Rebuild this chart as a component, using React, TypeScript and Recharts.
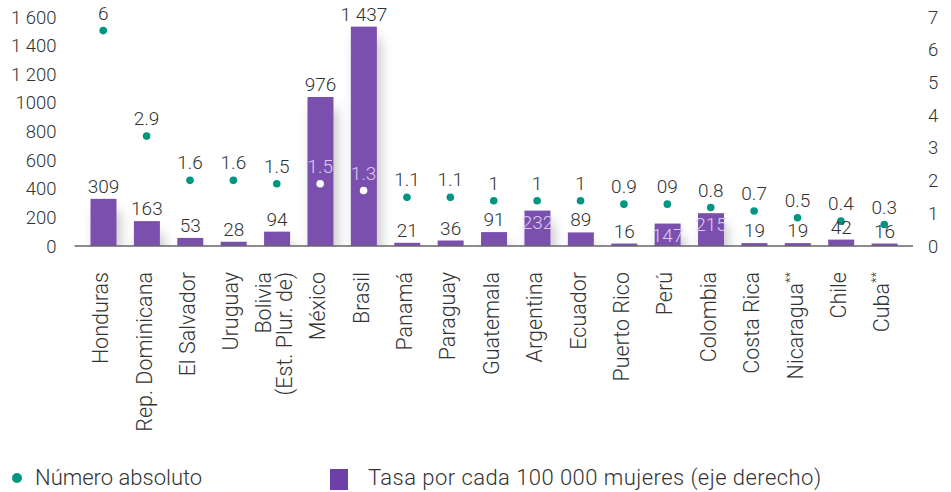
import React from "react";
import { ComposedChart, Bar, Line, XAxis, YAxis, LabelList } from "recharts";

// countries, "\n" splits a label over two lines, trailing "**" is a footnote mark
const countries = [
  "Honduras",
  "Rep. Dominicana",
  "El Salvador",
  "Uruguay",
  "Bolivia\n(Est. Plur. de)",
  "México",
  "Brasil",
  "Panamá",
  "Paraguay",
  "Guatemala",
  "Argentina",
  "Ecuador",
  "Puerto Rico",
  "Perú",
  "Colombia",
  "Costa Rica",
  "Nicaragua**",
  "Chile",
  "Cuba**",
];

// bars (left axis)
const absolute = [309, 163, 53, 28, 94, 976, 1437, 21, 36, 91, 232, 89, 16, 147, 215, 19, 19, 42, 16];

// dots (right axis)
const rates = [6, 2.9, 1.6, 1.6, 1.5, 1.5, 1.3, 1.1, 1.1, 1, 1, 1, 0.9, 0.9, 0.8, 0.7, 0.5, 0.4, 0.3];
const rateLabels = ["6", "2.9", "1.6", "1.6", "1.5", "1.5", "1.3", "1.1", "1.1", "1", "1", "1", "0.9", "09", "0.8", "0.7", "0.5", "0.4", "0.3"];

const leftTicks = [0, 200, 400, 600, 800, 1000, 1200, 1400, 1600];
const leftTickLabels = ["0", "200", "400", "600", "800", "1000", "1 200", "1 400", "1 600"];
const rightTicks = [0, 1, 2, 3, 4, 5, 6, 7];

// labels drawn inside the bar in a light colour
const barLabelsInside = ["Argentina", "Perú", "Colombia"];
const dotsInsideBar = ["México", "Brasil"];

const data = countries.map((name, i) => ({
  name,
  absolute: absolute[i],
  rate: rates[i],
  rateLabel: rateLabels[i],
}));

const FONT = "Roboto, 'Liberation Sans', Arial, sans-serif";
const TEXT = "#333333";
const PURPLE = "#7A50AE";
const TEAL = "#009682";
const LIGHT = "#dccdf0";

const fmt = (v: number) => (v >= 1000 ? `${Math.floor(v / 1000)} ${String(v % 1000).padStart(3, "0")}` : String(v));

const CountryTick = (props: any) => {
  const { x, y, payload } = props;
  const lines = String(payload.value).split("\n");
  const n = lines.length;
  return (
    <g transform={`translate(${x},${y})`}>
      <text transform="rotate(-90)" textAnchor="end" fontSize={21.5} fill={TEXT} fontFamily={FONT} fontWeight={300}>
        {lines.map((line, i) => {
          const note = line.endsWith("**");
          const txt = note ? line.slice(0, -2) : line;
          return (
            <tspan key={i} x={-26} y={5 + (i - (n - 1) / 2) * 21}>
              {txt}
              {note && (
                <tspan fontSize={13} dy={-9}>
                  **
                </tspan>
              )}
            </tspan>
          );
        })}
      </text>
    </g>
  );
};

const BarShape = (props: any) => {
  const { x, y, width, height } = props;
  return <rect x={x} y={y} width={width} height={height} fill={PURPLE} filter="url(#barShadow)" />;
};

const BarValue = (props: any) => {
  const { x, y, width, value, index } = props;
  const inside = barLabelsInside.includes(countries[index]);
  return (
    <text
      x={x + width / 2}
      y={inside ? y + 18 : y - 6}
      textAnchor="middle"
      fontSize={19}
      fontFamily={FONT}
      fontWeight={300}
      fill={inside ? LIGHT : TEXT}
    >
      {fmt(value)}
    </text>
  );
};

const RateDot = (props: any) => {
  const { cx, cy, index } = props;
  const inside = dotsInsideBar.includes(countries[index]);
  return <circle key={index} cx={cx} cy={cy} r={3.8} fill={inside ? "#ffffff" : TEAL} />;
};

const RateValue = (props: any) => {
  const { x, y, index } = props;
  const inside = dotsInsideBar.includes(countries[index]);
  return (
    <text x={x} y={y - 11} textAnchor="middle" fontSize={19} fontFamily={FONT} fontWeight={300} fill={inside ? LIGHT : TEXT}>
      {rateLabels[index]}
    </text>
  );
};

export default function App() {
  return (
    <div style={{ position: "absolute", left: 0, top: 0, width: 951, height: 492, background: "#fff", fontFamily: FONT }}>
      <ComposedChart width={951} height={492} data={data} margin={{ top: 17, right: 0, bottom: 46, left: 0 }}>
        <defs>
          <filter id="barShadow" x="-60%" y="-20%" width="220%" height="170%">
            <feDropShadow dx={4} dy={12} stdDeviation={6} floodColor="#000" floodOpacity={0.22} />
          </filter>
        </defs>
        <XAxis
          dataKey="name"
          interval={0}
          height={200}
          padding={{ left: 7, right: 7 }}
          tickLine={false}
          tickSize={0}
          tickMargin={0}
          axisLine={{ stroke: "#666", strokeWidth: 1.5 }}
          tick={<CountryTick />}
        />
        <YAxis
          yAxisId="left"
          orientation="left"
          width={74.5}
          domain={[0, 1600]}
          allowDataOverflow
          ticks={leftTicks}
          tickFormatter={(v: number) => leftTickLabels[leftTicks.indexOf(v)]}
          axisLine={false}
          tickLine={false}
          tickSize={0}
          tickMargin={18}
          tick={{ fontSize: 18.5, fill: TEXT, fontFamily: FONT, fontWeight: 300 }}
        />
        <YAxis
          yAxisId="right"
          orientation="right"
          width={38}
          domain={[0, 7]}
          allowDataOverflow
          ticks={rightTicks}
          axisLine={false}
          tickLine={false}
          tickSize={0}
          tickMargin={15}
          tick={{ fontSize: 18.5, fill: TEXT, fontFamily: FONT, fontWeight: 300, textAnchor: "start" }}
        />
        {/* series scales as drawn in the source figure */}
        <YAxis yAxisId="bars" hide width={0} domain={[0, 1500]} allowDataOverflow />
        <YAxis yAxisId="dots" hide width={0} orientation="right" domain={[-0.33, 6.4]} allowDataOverflow />
        <Bar yAxisId="bars" dataKey="absolute" barSize={26} fill={PURPLE} shape={<BarShape />} isAnimationActive={false}>
          <LabelList dataKey="absolute" content={<BarValue />} />
        </Bar>
        <Line
          yAxisId="dots"
          dataKey="rate"
          stroke="none"
          strokeWidth={0}
          dot={<RateDot />}
          activeDot={false}
          isAnimationActive={false}
        >
          <LabelList dataKey="rate" content={<RateValue />} />
        </Line>
      </ComposedChart>
      <div style={{ position: "absolute", left: 12, top: 473, width: 10, height: 10, borderRadius: 5, background: TEAL }} />
      <div style={{ position: "absolute", left: 35, top: 465, fontSize: 22, lineHeight: "26px", color: TEXT, fontWeight: 300, whiteSpace: "nowrap" }}>
        Número absoluto
      </div>
      <div style={{ position: "absolute", left: 330, top: 469, width: 18, height: 21, background: "#6E3FA7" }} />
      <div
        style={{
          position: "absolute",
          left: 368,
          top: 465,
          fontSize: 22,
          lineHeight: "26px",
          letterSpacing: 0.45,
          color: TEXT,
          fontWeight: 300,
          whiteSpace: "nowrap",
        }}
      >
        Tasa por cada 100 000 mujeres (eje derecho)
      </div>
    </div>
  );
}
